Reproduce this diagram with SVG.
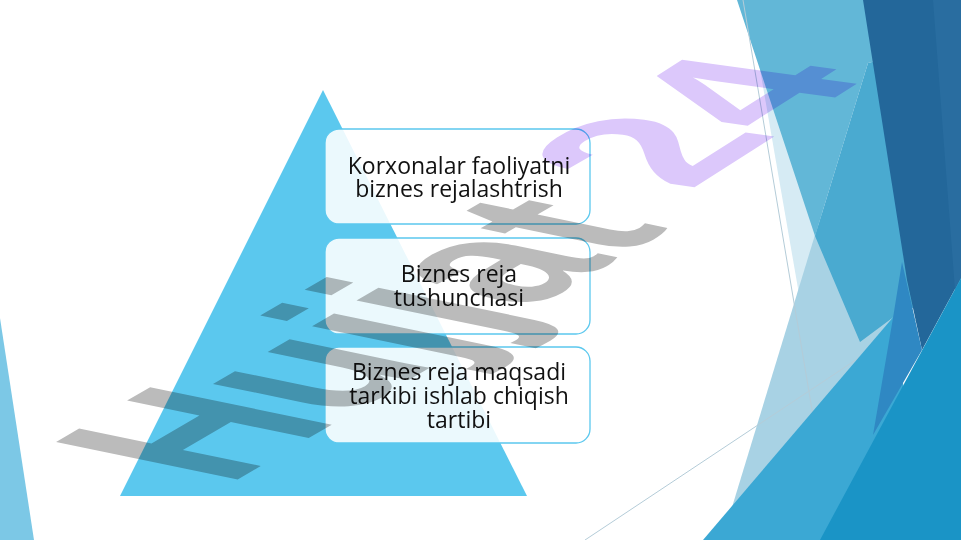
<svg xmlns="http://www.w3.org/2000/svg" width="961" height="540" viewBox="0 0 961 540">
  <style>
    .box { fill: #ffffff; fill-opacity: 0.88; stroke: #5bc8ee; stroke-width: 1.3; }
    .lbl { font-family: "Open Sans", "Noto Sans", "DejaVu Sans", sans-serif; font-size: 23px; fill: #111111; text-anchor: middle; }
    .thin { stroke: #b4ccd8; stroke-width: 1; fill: none; }
    .wm { font-family: "Liberation Sans", Arial, sans-serif; font-weight: bold; font-size: 100px; mix-blend-mode: multiply; }
  </style>
  <rect x="0" y="0" width="961" height="540" fill="#ffffff"/>

  <!-- decorative background (right side) -->
  <g id="decor">
    <polygon points="0,318 34,540 0,540" fill="#7cc8e6"/>
    <polygon points="748,0 800,0 830,290 800,300" fill="#d6ebf4"/>
    <polygon points="818,225 900,225 900,540 722,540" fill="#a8d2e4"/>
    <polygon points="737,0 880,0 880,60 868,63 815,236" fill="#62b7d7"/>
    <polygon points="868,63 880,60 930,60 930,300 895,316 860,342 815,236" fill="#4aaad0"/>
    <line class="thin" x1="743" y1="0" x2="834" y2="540"/>
    <line class="thin" x1="585" y1="540" x2="961" y2="290"/>
    <polygon points="703,540 895,315 905,400 880,540" fill="#3ba8d4"/>
    <polygon points="863,0 961,0 961,278 922,350 907,280" fill="#23679a"/>
    <polygon points="933,0 961,0 961,278 955,290" fill="#296da0"/>
    <polygon points="902,262 922,350 873,435 893,318" fill="#2f88c3"/>
    <polygon points="961,278 961,540 820,540" fill="#1a94c6"/>
  </g>

  <!-- pyramid -->
  <polygon id="pyramid" points="323,90 527,496 120,496" fill="#5bc8ee"/>

  <g id="connectors"/>

  <g id="node1">
    <rect class="box" x="325" y="129" width="265" height="95" rx="14"/>
    <text class="lbl" x="459" y="174">Korxonalar faoliyatni</text>
    <text class="lbl" x="459" y="197">biznes rejalashtrish</text>
  </g>
  <g id="node2">
    <rect class="box" x="325" y="238" width="265" height="96" rx="14"/>
    <text class="lbl" x="459" y="282">Biznes reja</text>
    <text class="lbl" x="459" y="306">tushunchasi</text>
  </g>
  <g id="node3">
    <rect class="box" x="325" y="347" width="265" height="96" rx="14"/>
    <text class="lbl" x="459" y="380">Biznes reja maqsadi</text>
    <text class="lbl" x="459" y="404">tarkibi ishlab chiqish</text>
    <text class="lbl" x="459" y="428">tartibi</text>
  </g>

  <!-- watermark -->
  <g id="watermark">
    <text class="wm" fill="#bbbbbb" transform="matrix(1.60,-0.93,2.64,0.545,227,485.6)">Hujjat</text>
    <text class="wm" fill="#dcc8fb" transform="matrix(1.655,-1.054,2.54,0.35,688.8,190.8)">24</text>
  </g>
</svg>
